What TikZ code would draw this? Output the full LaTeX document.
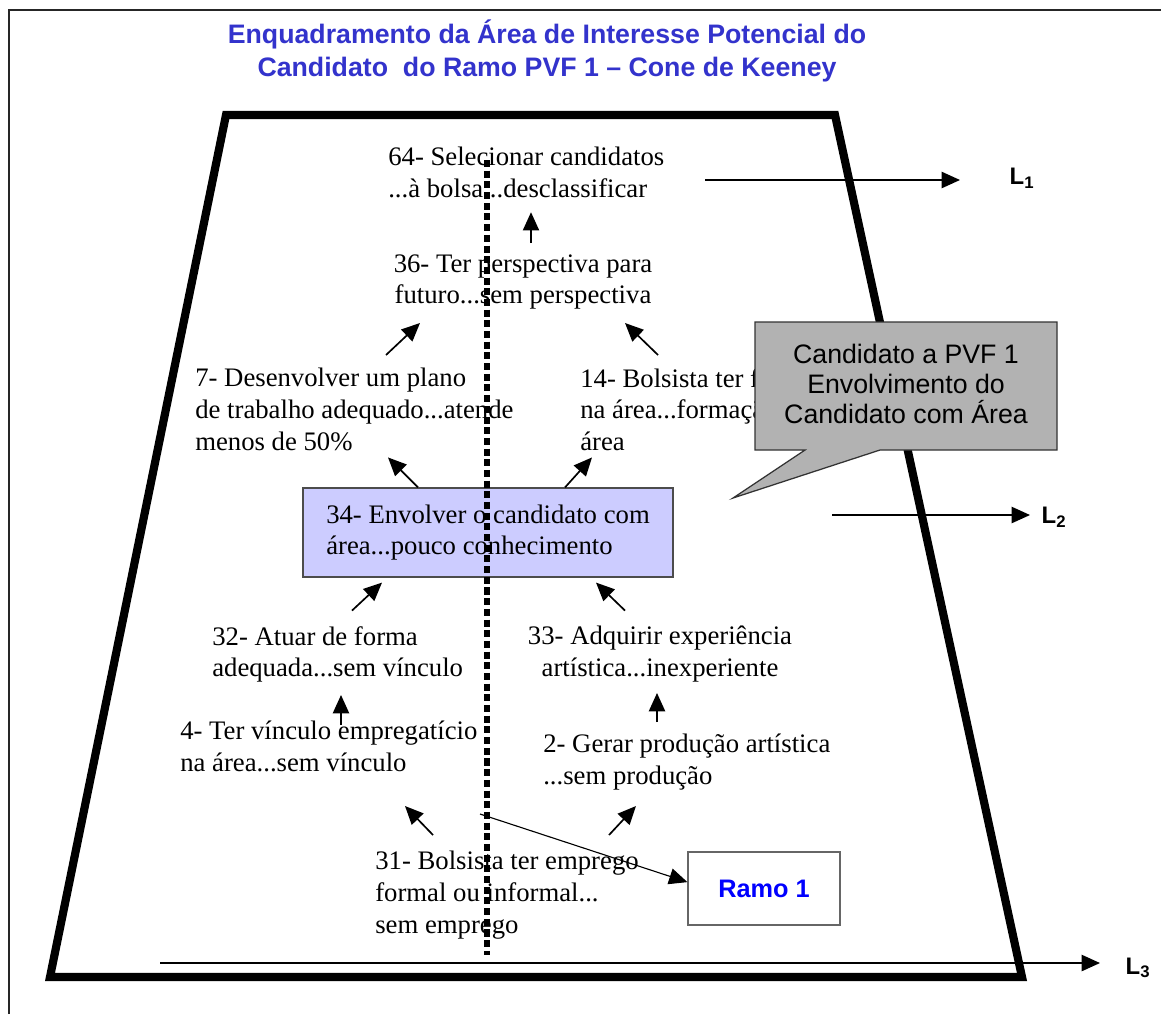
\documentclass[tikz,border=0pt]{standalone}
\usepackage{fontspec}
\setmainfont{Liberation Serif}
\newfontfamily\arialfont{Liberation Sans}
\usetikzlibrary{arrows.meta}
\definecolor{titc}{RGB}{51,51,204}
\definecolor{ramoc}{RGB}{0,0,255}
\definecolor{boxc}{RGB}{204,204,255}
\definecolor{callc}{RGB}{178,178,178}

\begin{document}
\begin{tikzpicture}[x=0.025cm,y=-0.025cm,>={Triangle[length=13pt,width=11.5pt]},
  obj/.style={inner sep=0pt,align=left,anchor=north west,font=\fontsize{19}{22.5}\selectfont},
  arr/.style={->,line width=1.2pt},
  lev/.style={inner sep=0pt,font=\arialfont\bfseries\fontsize{17}{20}\selectfont}]
\useasboundingbox (0,0) rectangle (1161,1014);
\draw[line width=1.4pt,black!85] (9,1014) -- (9,10) -- (1161,10);
\node[font=\arialfont\bfseries\fontsize{19}{23.5}\selectfont,text=titc,align=center] (title) at (547,51)
  {Enquadramento da Área de Interesse Potencial do\\Candidato~ do Ramo PVF 1 – Cone de Keeney};
% cone
\draw[line width=5.8pt,line join=miter] (226,115) -- (835,115) -- (1022,977) -- (50,977) -- cycle;
% objectives
\node[obj] (o64) at (388,147) {64- Selecionar candidatos\\...à bolsa...desclassificar};
\node[obj,align=center,anchor=center] (o36) at (523,282) {36- Ter perspectiva para\\futuro...sem perspectiva};
\node[obj] (o7) at (195,368) {7- Desenvolver um plano\\de trabalho adequado...atende\\menos de 50\%};
\node[obj] (o14) at (580,368) {14- Bolsista ter formação\\na área...formação em outra\\área};
\node[obj,anchor=center,draw=black!70,fill=boxc,line width=0.8pt,minimum width=9.25cm,minimum height=2.225cm]
  (o34) at (488,532.5) {34- Envolver o candidato com\\área...pouco conhecimento};
\node[obj] (o32) at (212,626) {32- Atuar de forma\\adequada...sem vínculo};
\node[obj,align=center,anchor=center] (o33) at (660,654) {33- Adquirir experiência\\artística...inexperiente};
\node[obj] (o4) at (180,721) {4- Ter vínculo empregatício\\na área...sem vínculo};
\node[obj] (o2) at (543,734) {2- Gerar produção artística\\...sem produção};
\node[obj] (o31) at (375,851) {31- Bolsista ter emprego\\formal ou informal...\\sem emprego};
\node[draw=black!60,fill=white,line width=0.8pt,minimum width=3.8cm,minimum height=1.825cm,
  font=\arialfont\bfseries\fontsize{18}{21}\selectfont,text=ramoc] (ramo) at (764,888.5) {Ramo 1};
% callout
\filldraw[fill=callc,draw=black!80,line width=0.9pt] (755,322) -- (1057,322) -- (1057,450) -- (880,450)
  -- (733,498) -- (805,450) -- (755,450) -- cycle;
\node[font=\arialfont\fontsize{19}{21.5}\selectfont,align=center] (call) at (906,384)
  {Candidato a PVF 1\\Envolvimento do\\Candidato com Área};
% split line
\draw[line width=4.8pt,dash pattern=on 5pt off 2.6pt] (487,160) -- (487,955);
% means-ends arrows
\draw[arr] (o36.north) ++(8,-11) -- ++(0,-31);
\draw[arr] (o7.north west) ++(191,-13) -- ++(34,-32);
\draw[arr] (o14.north west) ++(78,-13) -- ++(-33,-32);
\draw[arr] (o34.north) ++(-70,0) -- ++(-30,-30);
\draw[arr] (o34.north) ++(77,0) -- ++(27,-30);
\draw[arr] (o34.south) ++(-136,33) -- ++(30,-28);
\draw[arr] (o34.south) ++(137,33) -- ++(-29,-28);
\draw[arr] (o4.north west) ++(161,4) -- ++(0,-30);
\draw[arr] (o2.north west) ++(114,-12) -- ++(0,-29);
\draw[arr] (o31.north west) ++(58,-16) -- ++(-28,-29);
\draw[arr] (o31.north west) ++(234,-16) -- ++(27,-29);
\draw[arr,line width=0.8pt] (o31.north west) ++(105,-37) -- ([yshift=0.16cm]ramo.west);
% levels
\coordinate (l1a) at (705,180); \coordinate (l1b) at (960,180);
\coordinate (l2a) at (832,515); \coordinate (l2b) at (1030,515);
\coordinate (l3a) at (160,963); \coordinate (l3b) at (1100,963);
\draw[arr] (l1a) -- (l1b); \node[lev] (l1) at (1022,178) {L\textsubscript{1}};
\draw[arr] (l2a) -- (l2b); \node[lev] (l2) at (1054,517) {L\textsubscript{2}};
\draw[arr] (l3a) -- (l3b); \node[lev] (l3) at (1138,968) {L\textsubscript{3}};
\end{tikzpicture}
\end{document}
